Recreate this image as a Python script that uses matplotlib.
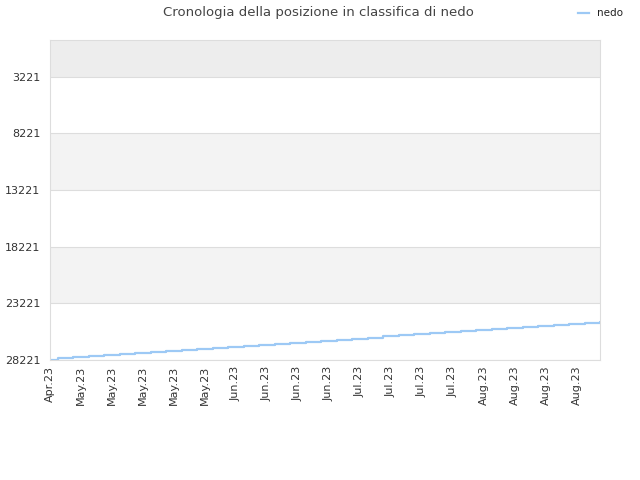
import matplotlib
matplotlib.use("Agg")
import matplotlib.pyplot as plt
import numpy as np

title = "Cronologia della posizione in classifica di nedo"
series_name = "nedo"
ranks = [28180, 28088, 27995, 27903, 27810, 27718, 27626, 27533, 27441, 27348,
         27256, 27164, 27071, 26979, 26886, 26794, 26702, 26609, 26517, 26424,
         26332, 26240, 26147, 26055, 25962, 25870, 25778, 25685, 25593, 25500,
         25408, 25316, 25223, 25131, 25038, 24946, 24900]
tick_labels = ["Apr.23", "May.23", "May.23", "May.23", "May.23", "May.23",
               "Jun.23", "Jun.23", "Jun.23", "Jun.23",
               "Jul.23", "Jul.23", "Jul.23", "Jul.23",
               "Aug.23", "Aug.23", "Aug.23", "Aug.23"]
y_ticks = [3221, 8221, 13221, 18221, 23221, 28221]

fig = plt.figure(figsize=(6.4, 4.8), dpi=100)
ax = fig.add_axes([50/640, 1-360/480, 550/640, 320/480])

x = np.arange(len(ranks))
ax.plot(x, ranks, drawstyle="steps-mid", color="#9dc9f5", lw=1.6, label=series_name)

ax.set_xlim(0, 35.5)
ax.set_ylim(28221, 0)

# bands
ax.axhspan(0, 3221, color="#ededed", zorder=0, lw=0)
bounds = [3221] + y_ticks[1:]
for i in range(len(bounds) - 1):
    if i % 2 == 1:
        ax.axhspan(bounds[i], bounds[i+1], color="#f3f3f3", zorder=0, lw=0)
for yt in y_ticks:
    ax.axhline(yt, color="#dddddd", lw=0.8, zorder=1)

ax.set_yticks(y_ticks)
ax.set_yticklabels([str(v) for v in y_ticks], fontsize=8, color="#333333")
ax.set_xticks(np.arange(0, 2*len(tick_labels), 2))
ax.set_xticklabels(tick_labels, rotation=90, fontsize=8, color="#333333")
ax.tick_params(axis="both", length=0, pad=4)
ax.tick_params(axis="y", pad=7)

for s in ax.spines.values():
    s.set_color("#dddddd")
    s.set_linewidth(0.8)

fig.text(318/640, 1-12.5/480, title, ha="center", va="center", fontsize=9.5, color="#444444")
leg = fig.legend(loc="upper right", bbox_to_anchor=(632/640, 1+1/480), frameon=False,
                 fontsize=7.5, handlelength=1.1, handletextpad=0.7)
for t in leg.get_texts():
    t.set_color("#222222")

fig.savefig("out.png", dpi=100)
